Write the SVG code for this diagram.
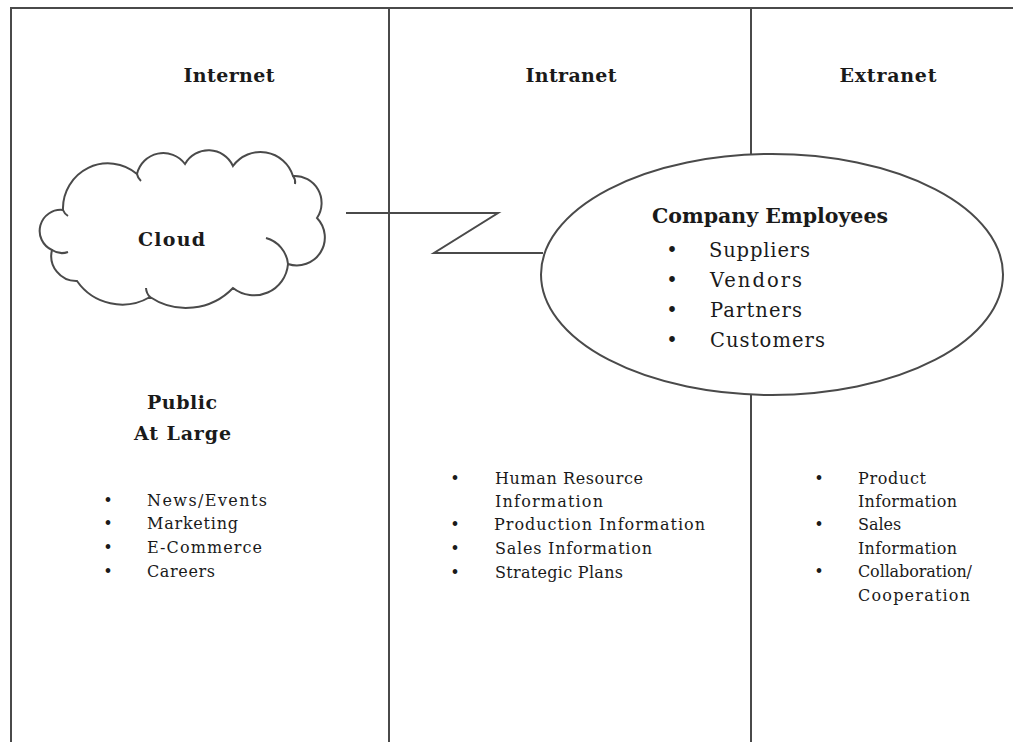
<svg xmlns="http://www.w3.org/2000/svg" width="1013" height="742" viewBox="0 0 1013 742">
<style>
.ln{fill:none;stroke:#4a4a4a;stroke-width:2}
.shape{fill:#fff;stroke:#4a4a4a;stroke-width:2}
.h{font-family:"DejaVu Serif","Liberation Serif",serif;font-weight:bold;font-size:19px;fill:#1a1a1a}
.b{font-family:"DejaVu Serif","Liberation Serif",serif;font-size:19.5px;fill:#1a1a1a}
.s{font-family:"DejaVu Serif","Liberation Serif",serif;font-size:16px;fill:#1a1a1a}
</style>
<rect width="1013" height="742" fill="#fff"/>
<g id="frame">
<path class="ln" d="M11,742 V8 H1013"/>
<path class="ln" d="M389,8 V742"/>
<path class="ln" d="M751,8 V154 M751,395 V742"/>
</g>
<g id="connectors">
<path class="ln" d="M346,213 H498 L434,253 H543"/>
</g>
<g id="headers">
<text class="h" x="229" y="82" text-anchor="middle" textLength="91" lengthAdjust="spacing">Internet</text>
<text class="h" x="571" y="82" text-anchor="middle" textLength="91" lengthAdjust="spacing">Intranet</text>
<text class="h" x="888" y="82" text-anchor="middle" textLength="97" lengthAdjust="spacing">Extranet</text>
</g>
<g id="cloud">
<path class="shape" d="M63,210 A45,45 0 0 1 137,174 A27,27 0 0 1 185,164 A27,27 0 0 1 233,166 A34,34 0 0 1 293,176 A27,27 0 0 1 317,218 A28,28 0 0 1 288,264 A34,34 0 0 1 233,288 A65,65 0 0 1 150,297 A55,55 0 0 1 77,281 A25,25 0 0 1 52,250 A21,21 0 0 1 63,210 Z"/>
<path class="ln" d="M266,238 A30,30 0 0 1 288,264"/>
<path class="ln" d="M52,250 A18,18 0 0 0 68,252"/>
<path class="ln" d="M150,297 A14,14 0 0 1 146,288"/>
<path class="ln" d="M137,174 A12,12 0 0 0 141,181"/>
<path class="ln" d="M293,176 A10,10 0 0 1 295,184"/>
<path class="ln" d="M63,210 A12,12 0 0 0 68,216"/>
<text class="h" x="138" y="246" textLength="67" lengthAdjust="spacing">Cloud</text>
</g>
<g id="company">
<ellipse class="shape" cx="772" cy="274.5" rx="231" ry="120.5"/>
<text class="h" x="652" y="223" style="font-size:20.5px" textLength="236" lengthAdjust="spacing">Company Employees</text>
<text class="b" x="672" y="257" text-anchor="middle">•</text><text class="b" x="709" y="257" textLength="101" lengthAdjust="spacing">Suppliers</text>
<text class="b" x="672" y="287" text-anchor="middle">•</text><text class="b" x="710" y="287" textLength="92" lengthAdjust="spacing">Vendors</text>
<text class="b" x="672" y="317" text-anchor="middle">•</text><text class="b" x="710" y="317" textLength="92" lengthAdjust="spacing">Partners</text>
<text class="b" x="672" y="347" text-anchor="middle">•</text><text class="b" x="710" y="347" textLength="115" lengthAdjust="spacing">Customers</text>
</g>
<g id="public">
<text class="h" x="147" y="409" textLength="70" lengthAdjust="spacing">Public</text>
<text class="h" x="134" y="440" textLength="97" lengthAdjust="spacing">At Large</text>
<text class="s" x="108" y="506" text-anchor="middle">•</text><text class="s" x="147" y="506" textLength="120" lengthAdjust="spacing">News/Events</text>
<text class="s" x="108" y="529" text-anchor="middle">•</text><text class="s" x="147" y="529" textLength="91" lengthAdjust="spacing">Marketing</text>
<text class="s" x="108" y="553" text-anchor="middle">•</text><text class="s" x="147" y="553" textLength="115" lengthAdjust="spacing">E-Commerce</text>
<text class="s" x="108" y="577" text-anchor="middle">•</text><text class="s" x="147" y="577" textLength="68" lengthAdjust="spacing">Careers</text>
</g>
<g id="intranet-list">
<text class="s" x="455" y="484" text-anchor="middle">•</text><text class="s" x="495" y="484" textLength="148" lengthAdjust="spacing">Human Resource</text>
<text class="s" x="495" y="507" textLength="108" lengthAdjust="spacing">Information</text>
<text class="s" x="455" y="530" text-anchor="middle">•</text><text class="s" x="494" y="530" textLength="211" lengthAdjust="spacing">Production Information</text>
<text class="s" x="455" y="554" text-anchor="middle">•</text><text class="s" x="495" y="554" textLength="157" lengthAdjust="spacing">Sales Information</text>
<text class="s" x="455" y="578" text-anchor="middle">•</text><text class="s" x="495" y="578" textLength="128" lengthAdjust="spacing">Strategic Plans</text>
</g>
<g id="extranet-list">
<text class="s" x="819" y="484" text-anchor="middle">•</text><text class="s" x="858" y="484" textLength="68" lengthAdjust="spacing">Product</text>
<text class="s" x="858" y="507" textLength="99" lengthAdjust="spacing">Information</text>
<text class="s" x="819" y="530" text-anchor="middle">•</text><text class="s" x="858" y="530">Sales</text>
<text class="s" x="858" y="554" textLength="99" lengthAdjust="spacing">Information</text>
<text class="s" x="819" y="577" text-anchor="middle">•</text><text class="s" x="858" y="577" textLength="114" lengthAdjust="spacing">Collaboration/</text>
<text class="s" x="858" y="601" textLength="112" lengthAdjust="spacing">Cooperation</text>
</g>
</svg>
